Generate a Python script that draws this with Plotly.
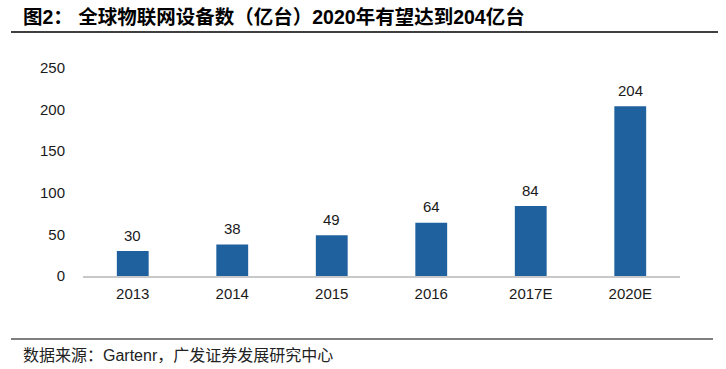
import plotly.graph_objects as go

categories = ["2013", "2014", "2015", "2016", "2017E", "2020E"]
values = [30, 38, 49, 64, 84, 204]
y_ticks = [0, 50, 100, 150, 200, 250]

title_text = "图2： 全球物联网设备数（亿台）2020年有望达到204亿台"
source_text = "数据来源：Gartenr，广发证券发展研究中心"

bar_color = "#1F619F"
latin = "Liberation Sans, Arial, sans-serif"
mixed = "Liberation Sans, Noto Sans CJK SC, sans-serif"

fig = go.Figure(
    go.Bar(
        x=categories,
        y=values,
        marker=dict(color=bar_color, line=dict(width=0)),
        cliponaxis=False,
        width=0.32,
        hoverinfo="x+y",
    )
)

# value labels: x given as category index on the category axis
value_labels = [
    dict(x=i, y=v, text=str(v), xref="x", yref="y", showarrow=False,
         yanchor="middle", yshift=16,
         font=dict(family=latin, size=15, color="#1a1a1a"))
    for i, v in enumerate(values)
]

fig.update_layout(
    width=726,
    height=369,
    margin=dict(l=83, r=46, t=68, b=93, autoexpand=False),
    paper_bgcolor="white",
    plot_bgcolor="white",
    showlegend=False,
    xaxis=dict(
        type="category",
        categoryorder="array",
        categoryarray=categories,
        range=[-0.5, len(categories) - 0.5],
        automargin=False,
        showgrid=False,
        showline=True,
        linecolor="#c8c8c8",
        linewidth=2,
        tickfont=dict(family=latin, size=15, color="#1a1a1a"),
        ticks="",
        ticklabelstandoff=3,
    ),
    yaxis=dict(
        automargin=False,
        range=[0, 250],
        tickvals=y_ticks,
        showgrid=False,
        zeroline=False,
        showline=False,
        tickfont=dict(family=latin, size=15, color="#1a1a1a"),
        ticks="",
        ticklabelstandoff=17,
    ),
    shapes=[
        dict(type="line", xref="paper", yref="paper",
             x0=-0.1206, x1=1.0637, y0=1.173, y1=1.173,
             line=dict(color="black", width=1.5)),
        dict(type="line", xref="paper", yref="paper",
             x0=-0.1206, x1=1.0553, y0=-0.303, y1=-0.303,
             line=dict(color="black", width=1.2)),
    ],
    annotations=value_labels + [
        dict(text="<b>" + title_text + "</b>", xref="paper", yref="paper",
             x=-0.104, y=1.245, xanchor="left", yanchor="middle", showarrow=False,
             font=dict(family=mixed, size=19.5, color="black")),
        dict(text=source_text, xref="paper", yref="paper",
             x=-0.104, y=-0.38, xanchor="left", yanchor="middle", showarrow=False,
             font=dict(family=mixed, size=16, color="#222222")),
    ],
)

fig.write_html(
    "out.html",
    config={"displayModeBar": False},
    post_script="document.body.style.margin='0';document.body.style.overflow='hidden';",
)
